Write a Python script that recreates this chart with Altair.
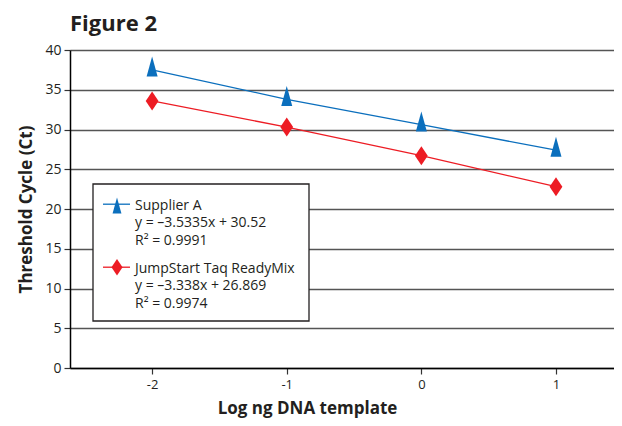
import altair as alt
import pandas as pd

# ---- data ----
x_vals = [-2, -1, 0, 1]
supplier_a = [37.5, 33.8, 30.6, 27.4]
jumpstart = [33.6, 30.3, 26.7, 22.8]
series_names = ["Supplier A", "JumpStart Taq ReadyMix"]
equations = ["y = \u20133.5335x + 30.52", "y = \u20133.338x + 26.869"]
r_squared = ["R\u00b2 = 0.9991", "R\u00b2 = 0.9974"]
y_ticks = [0, 5, 10, 15, 20, 25, 30, 35, 40]
x_ticks = [-2, -1, 0, 1]
x_domain = [-2.61, 1.431]
y_domain = [0, 40]
chart_title = "Figure 2"

colors = ["#0b6fbd", "#ed1c24"]
TRI = "M0,-1.333L-0.55,0.667L0.55,0.667Z"
DIA = "M0,-0.95L0.64,0L0,0.95L-0.64,0Z"
FONT = "Open Sans"
TXT = "#231f20"

rows = []
for x, a, b in zip(x_vals, supplier_a, jumpstart):
    rows.append({"x": x, "y": a, "s": series_names[0]})
    rows.append({"x": x, "y": b, "s": series_names[1]})
df = pd.DataFrame(rows)

W, H = 544, 318
PAD_TOP = 42

xenc = alt.X(
    "x:Q",
    scale=alt.Scale(domain=x_domain, nice=False, zero=False),
    axis=alt.Axis(
        values=x_ticks, grid=False, domainColor="black", domainWidth=1.5,
        tickColor="#333333", tickSize=6, tickWidth=1.2,
        labelFontSize=13, labelFont=FONT, labelColor=TXT, labelPadding=4,
        labelExpr="'' + datum.value",
        title="Log ng DNA template", titleFont=FONT, titleFontSize=17,
        titleFontWeight="bold", titleColor=TXT, titleX=237, titleY=45.5,
        titleAnchor="middle", titleAlign="center", titleBaseline="alphabetic",
    ),
)
yenc = alt.Y(
    "y:Q",
    scale=alt.Scale(domain=y_domain, nice=False),
    axis=alt.Axis(
        values=y_ticks, grid=True, gridColor="#555555", gridWidth=1.3,
        domainColor="black", domainWidth=1.5,
        tickColor="#333333", tickSize=6, tickWidth=1.2,
        labelFontSize=14, labelFont=FONT, labelColor=TXT, labelPadding=3,
        title="Threshold Cycle (Ct)", titleFont=FONT, titleFontSize=17,
        titleFontWeight="bold", titleColor=TXT, titleX=-44, titleY=159,
        titleAngle=270, titleAlign="center", titleBaseline="middle",
    ),
)
color = alt.Color("s:N", scale=alt.Scale(domain=series_names, range=colors), legend=None)
shape = alt.Shape("s:N", scale=alt.Scale(domain=series_names, range=[TRI, DIA]), legend=None)

lines = alt.Chart(df).mark_line(strokeWidth=1.3).encode(x=xenc, y=yenc, color=color, detail="s:N")
points = alt.Chart(df).mark_point(filled=True, size=400, opacity=1).encode(
    x=xenc, y=yenc, color=color, shape=shape
)

one = pd.DataFrame({"k": [0]})

title_mark = alt.Chart(one).mark_text(
    text=chart_title, align="left", baseline="alphabetic", font=FONT,
    fontSize=22, fontWeight="bold", color=TXT,
).encode(x=alt.value(0), y=alt.value(-19.5))

# legend box (plot-area pixel coordinates)
LX0, LX1, LY0, LY1 = 23, 239, 134, 271
box = alt.Chart(one).mark_rect(fill="white", stroke=TXT, strokeWidth=1.3).encode(
    x=alt.value(LX0), x2=alt.value(LX1), y=alt.value(LY0), y2=alt.value(LY1)
)

legend_layers = []
row_gap = 17.7
for i, (name, eq, r2) in enumerate(zip(series_names, equations, r_squared)):
    base = 159.7 + i * 63
    line_y = base - 5.5
    legend_layers.append(
        alt.Chart(one).mark_rule(color=colors[i], strokeWidth=1.3).encode(
            x=alt.value(33), x2=alt.value(60), y=alt.value(line_y)
        )
    )
    legend_layers.append(
        alt.Chart(one).mark_point(
            shape=[TRI, DIA][i], size=[260, 300][i], filled=True, opacity=1, color=colors[i]
        ).encode(x=alt.value(47), y=alt.value(line_y + (4 if i == 0 else 0)))
    )
    for j, t in enumerate([name, eq, r2]):
        legend_layers.append(
            alt.Chart(one).mark_text(
                text=t, align="left", baseline="alphabetic", font=FONT,
                fontSize=14, color=TXT,
            ).encode(x=alt.value(65), y=alt.value(base + j * row_gap))
        )

chart = alt.layer(box, lines, points, title_mark, *legend_layers).properties(
    width=W, height=H,
    padding={"left": 62, "top": PAD_TOP, "right": 0, "bottom": 410 - PAD_TOP - H},
    autosize=alt.AutoSizeParams(type="none"),
).configure_view(stroke=None)

chart.save("out.html", embed_options={"renderer": "svg", "actions": False})
